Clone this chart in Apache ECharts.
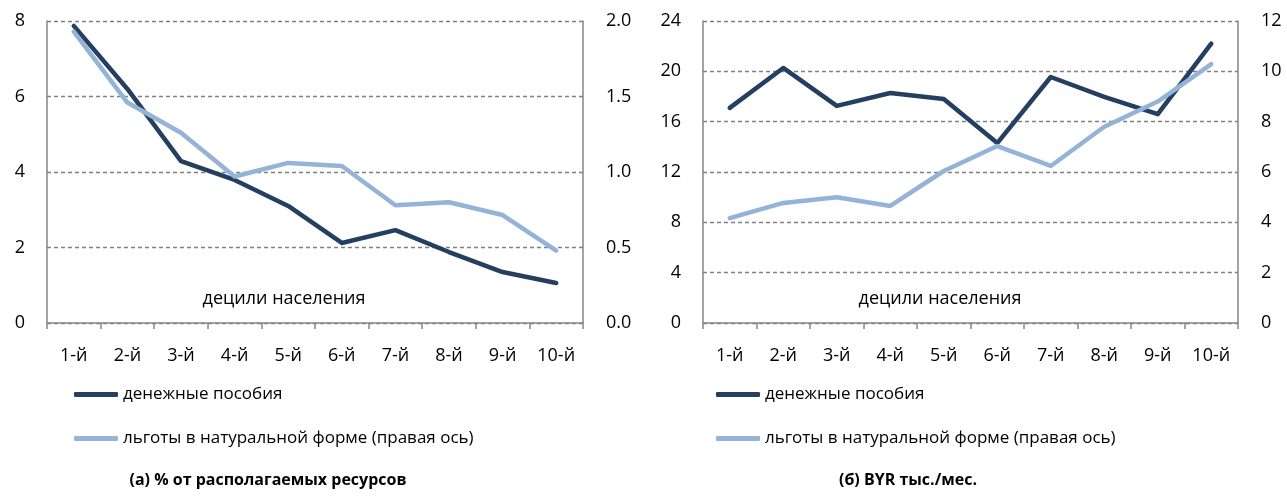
<!DOCTYPE html>
<html>
<head>
<meta charset="utf-8">
<script src="https://cdn.jsdelivr.net/npm/echarts@6/dist/echarts.min.js"></script>
<style>
  html, body { margin: 0; padding: 0; background: #fff; }
  #chart { width: 1287px; height: 497px; }
</style>
</head>
<body>
<div id="chart"></div>
<script>
// децили
const deciles = ["1-й", "2-й", "3-й", "4-й", "5-й", "6-й", "7-й", "8-й", "9-й", "10-й"];

// (а) % от располагаемых ресурсов
const cashShare = [7.87, 6.2, 4.29, 3.79, 3.1, 2.12, 2.46, 1.88, 1.35, 1.06];
const inKindShare = [1.93, 1.46, 1.26, 0.97, 1.06, 1.04, 0.78, 0.80, 0.715, 0.48];

// (б) BYR тыс./мес.
const cashByr = [17.1, 20.27, 17.25, 18.28, 17.8, 14.3, 19.55, 17.97, 16.6, 22.2];
const inKindByr = [4.17, 4.77, 5.0, 4.65, 6.04, 7.03, 6.24, 7.8, 8.8, 10.29];

const nameCash = "денежные пособия";
const nameKind = "льготы в натуральной форме (правая ось)";

const dark = "#243F60";
const light = "#95B3D7";
const axisGray = "#868686";
const font = "Open Sans";

const chart = echarts.init(document.getElementById("chart"));

const xAxisCfg = (gridIndex) => ({
  type: "category",
  gridIndex,
  data: deciles,
  boundaryGap: true,
  axisLine: { lineStyle: { color: axisGray, width: 1.5 } },
  axisTick: { show: true, alignWithLabel: false, length: 6, lineStyle: { color: axisGray, width: 1.5 } },
  axisLabel: { color: "#000", fontSize: 18, fontFamily: font, margin: 24 },
});

const yAxisCfg = (gridIndex, max, interval, position, grid, fmt) => ({
  type: "value",
  gridIndex,
  position,
  min: 0,
  max,
  interval,
  axisLine: { show: true, lineStyle: { color: axisGray, width: 1.5 } },
  axisTick: { show: false },
  splitLine: grid
    ? { show: true, lineStyle: { color: "#808080", type: [4, 3], width: 1.3 } }
    : { show: false },
  axisLabel: {
    color: "#000",
    fontSize: 18,
    fontFamily: font,
    margin: position === "left" ? 22 : 23,
    formatter: fmt,
  },
});

const lineSeries = (name, data, xi, yi, color) => ({
  name,
  type: "line",
  xAxisIndex: xi,
  yAxisIndex: yi,
  data,
  symbol: "none",
  lineStyle: { color, width: 4.5, cap: "round", join: "round" },
  itemStyle: { color },
  emphasis: { disabled: true },
});

const legendCfg = (left) => ({
  orient: "vertical",
  left,
  top: 386,
  padding: 0,
  itemWidth: 44,
  itemHeight: 5,
  itemGap: 27,
  icon: "roundRect",
  data: [nameCash, nameKind],
  textStyle: { fontSize: 17, fontFamily: font, color: "#000" },
  selectedMode: false,
});

chart.setOption({
  animation: false,
  grid: [
    { left: 47, right: 704, top: 21, bottom: 174 },
    { left: 703, right: 49, top: 21, bottom: 174 },
  ],
  xAxis: [xAxisCfg(0), xAxisCfg(1)],
  yAxis: [
    yAxisCfg(0, 8, 2, "left", true),
    yAxisCfg(0, 2, 0.5, "right", false, (v) => v.toFixed(1)),
    yAxisCfg(1, 24, 4, "left", true),
    yAxisCfg(1, 12, 2, "right", false),
  ],
  legend: [legendCfg(74), legendCfg(716)],
  series: [
    lineSeries(nameCash, cashShare, 0, 0, dark),
    lineSeries(nameKind, inKindShare, 0, 1, light),
    lineSeries(nameCash, cashByr, 1, 2, dark),
    lineSeries(nameKind, inKindByr, 1, 3, light),
  ],
  graphic: [
    { type: "text", x: 284, y: 299, style: { text: "децили населения", fontSize: 18, fontFamily: font, fill: "#000", align: "center", verticalAlign: "middle" } },
    { type: "text", x: 940, y: 299, style: { text: "децили населения", fontSize: 18, fontFamily: font, fill: "#000", align: "center", verticalAlign: "middle" } },
    { type: "text", x: 268, y: 480, style: { text: "(а) % от располагаемых ресурсов", fontSize: 16, fontWeight: "bold", fontFamily: font, fill: "#000", align: "center", verticalAlign: "middle" } },
    { type: "text", x: 908, y: 480, style: { text: "(б) BYR тыс./мес.", fontSize: 16, fontWeight: "bold", fontFamily: font, fill: "#000", align: "center", verticalAlign: "middle" } },
  ],
});
</script>
</body>
</html>
